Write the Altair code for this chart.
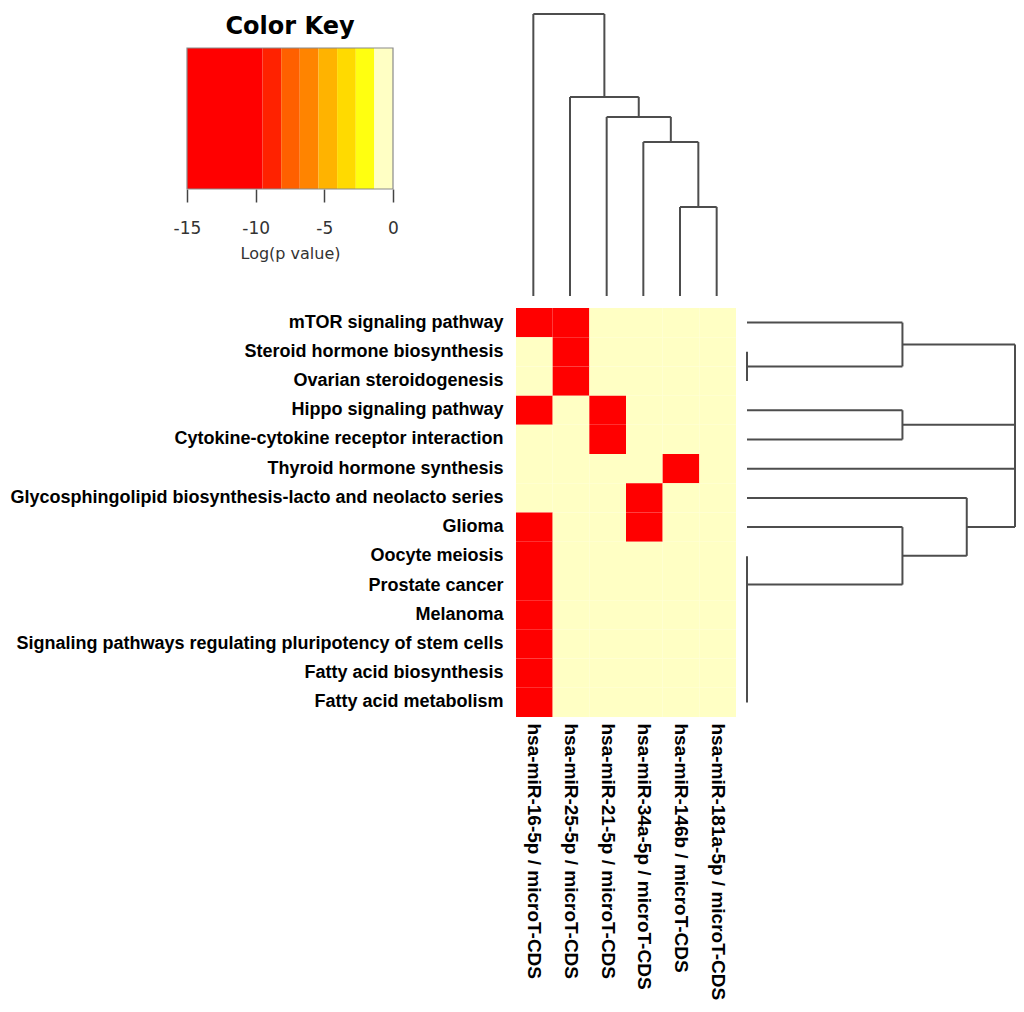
import altair as alt
import pandas as pd

PATHWAYS = [
    "mTOR signaling pathway",
    "Steroid hormone biosynthesis",
    "Ovarian steroidogenesis",
    "Hippo signaling pathway",
    "Cytokine-cytokine receptor interaction",
    "Thyroid hormone synthesis",
    "Glycosphingolipid biosynthesis-lacto and neolacto series",
    "Glioma",
    "Oocyte meiosis",
    "Prostate cancer",
    "Melanoma",
    "Signaling pathways regulating pluripotency of stem cells",
    "Fatty acid biosynthesis",
    "Fatty acid metabolism",
]
MIRNAS = [
    "hsa-miR-16-5p / microT-CDS",
    "hsa-miR-25-5p / microT-CDS",
    "hsa-miR-21-5p / microT-CDS",
    "hsa-miR-34a-5p / microT-CDS",
    "hsa-miR-146b / microT-CDS",
    "hsa-miR-181a-5p / microT-CDS",
]
# log(p value) per pathway (row) and miRNA (column)
LOGP = [
    [-15, -15, 0, 0, 0, 0],
    [0, -15, 0, 0, 0, 0],
    [0, -15, 0, 0, 0, 0],
    [-15, 0, -15, 0, 0, 0],
    [0, 0, -15, 0, 0, 0],
    [0, 0, 0, 0, -15, 0],
    [0, 0, 0, -15, 0, 0],
    [-15, 0, 0, -15, 0, 0],
    [-15, 0, 0, 0, 0, 0],
    [-15, 0, 0, 0, 0, 0],
    [-15, 0, 0, 0, 0, 0],
    [-15, 0, 0, 0, 0, 0],
    [-15, 0, 0, 0, 0, 0],
    [-15, 0, 0, 0, 0, 0],
]
KEY_EDGES = [-15, -9.5, -8.14, -6.79, -5.43, -4.07, -2.71, -1.36, 0]
KEY_COLORS = ["#FF0000", "#FF2200", "#FF6000", "#FF8400", "#FFB300",
              "#FFDA00", "#FFFF10", "#FFFFC4"]
KEY_TICKS = [-15, -10, -5, 0]

# dendrogram merges: (children, height); ints = leaf index, "mK" = K-th merge
ROW_MERGES = [
    ([1, 2], 0.0),
    ([0, "m0"], 0.58),
    ([3, 4], 0.58),
    ([12, 13], 0.0),
    ([11, "m3"], 0.0),
    ([10, "m4"], 0.0),
    ([9, "m5"], 0.0),
    ([8, "m6"], 0.0),
    ([7, "m7"], 0.58),
    ([6, "m8"], 0.82),
    (["m1", "m2", 5, "m9"], 1.0),
]
COL_MERGES = [
    ([4, 5], 0.316),
    ([3, "m0"], 0.546),
    ([2, "m1"], 0.635),
    ([1, "m2"], 0.706),
    ([0, "m3"], 1.0),
]

LINE = "#4d4d4d"


def dendro_segments(merges):
    pos, hgt, segs = {}, {}, []
    for i, (children, h) in enumerate(merges):
        ps = []
        for c in children:
            if isinstance(c, int):
                p, ch = c, 0.0
            else:
                p, ch = pos[c], hgt[c]
            segs.append(dict(p1=p, p2=p, h1=ch, h2=h))
            ps.append(p)
        segs.append(dict(p1=min(ps), p2=max(ps), h1=h, h2=h))
        pos[f"m{i}"] = (ps[0] + ps[-1]) / 2
        hgt[f"m{i}"] = h
    return pd.DataFrame(segs)


def blank(w, h):
    return alt.Chart(pd.DataFrame({"s": [0]})).mark_rect(opacity=0).properties(width=w, height=h)


color_scale = alt.Scale(type="threshold", domain=KEY_EDGES[1:-1], range=KEY_COLORS)

heat_df = pd.DataFrame([
    {"pathway": PATHWAYS[r], "mirna": MIRNAS[c], "logp": LOGP[r][c]}
    for r in range(len(PATHWAYS)) for c in range(len(MIRNAS))
])

heat = alt.Chart(heat_df).mark_rect().encode(
    x=alt.X("mirna:N", sort=MIRNAS,
            scale=alt.Scale(paddingInner=0, paddingOuter=0),
            axis=alt.Axis(title=None, orient="bottom", labelAngle=90, ticks=False,
                          domain=False, labelPadding=6, labelFont="Liberation Sans",
                          labelFontSize=19, labelFontWeight="bold", labelColor="black",
                          labelLimit=1000)),
    y=alt.Y("pathway:N", sort=PATHWAYS,
            scale=alt.Scale(paddingInner=0, paddingOuter=0),
            axis=alt.Axis(title=None, ticks=False, domain=False, labelPadding=13,
                          labelFont="Liberation Sans", labelFontSize=18,
                          labelFontWeight="bold", labelColor="black", labelLimit=1000)),
    color=alt.Color("logp:Q", scale=color_scale, legend=None),
).properties(width=220, height=409)

row_seg = dendro_segments(ROW_MERGES)
rowdendro = alt.Chart(row_seg).mark_rule(color=LINE, strokeWidth=2).encode(
    x=alt.X("h1:Q", scale=alt.Scale(domain=[0, 1], nice=False), axis=None),
    x2="h2:Q",
    y=alt.Y("p1:Q", scale=alt.Scale(domain=[-0.5, 13.5], reverse=True, nice=False, zero=False),
            axis=None),
    y2="p2:Q",
).properties(width=268, height=409)

col_seg = dendro_segments(COL_MERGES)
coldendro = alt.Chart(col_seg).mark_rule(color=LINE, strokeWidth=2).encode(
    x=alt.X("p1:Q", scale=alt.Scale(domain=[-0.5, 5.5], nice=False, zero=False), axis=None),
    x2="p2:Q",
    y=alt.Y("h1:Q", scale=alt.Scale(domain=[0, 1], nice=False), axis=None),
    y2="h2:Q",
).properties(width=220, height=282)

key_df = pd.DataFrame({"lo": KEY_EDGES[:-1], "hi": KEY_EDGES[1:]})
key_df["mid"] = (key_df["lo"] + key_df["hi"]) / 2
key_x = alt.X("lo:Q", scale=alt.Scale(domain=[KEY_EDGES[0], KEY_EDGES[-1]], nice=False, zero=False),
              axis=alt.Axis(values=KEY_TICKS, title="Log(p value)", domain=False,
                            labelExpr="datum.value + ''", labelFlush=False,
                            tickSize=13, tickColor="#444", tickWidth=1.5,
                            labelFont="DejaVu Sans", labelFontSize=17, labelColor="#333",
                            labelPadding=18, titleFont="DejaVu Sans", titleFontSize=16,
                            titleFontWeight="normal", titleColor="#333", titlePadding=9,
                            grid=False))
bands = alt.Chart(key_df).mark_rect().encode(
    x=key_x,
    x2="hi:Q",
    color=alt.Color("mid:Q", scale=color_scale, legend=None),
)
border_df = pd.DataFrame({"lo": [KEY_EDGES[0]], "hi": [KEY_EDGES[-1]]})
border = alt.Chart(border_df).mark_rect(fillOpacity=0, stroke="#8a8a8a", strokeWidth=1.2).encode(
    x=key_x, x2="hi:Q"
)
key = alt.layer(bands, border).properties(
    width=206, height=141,
    title=alt.TitleParams("Color Key", font="DejaVu Sans", fontSize=24, fontWeight="bold",
                          anchor="middle", offset=8, color="black"),
)

key_block = alt.vconcat(blank(1, 1), key, spacing=0)
top = alt.hconcat(blank(49, 1), key_block, coldendro, spacing=116)
bottom = alt.hconcat(blank(1, 1), alt.hconcat(heat, rowdendro, spacing=10), spacing=0)

chart = alt.vconcat(top, bottom, spacing=11).properties(
    padding={"left": 0, "top": 5, "right": 0, "bottom": 0},
    background="white",
).configure_view(stroke=None)

chart.save("out.html", embed_options={"renderer": "svg", "actions": False})
